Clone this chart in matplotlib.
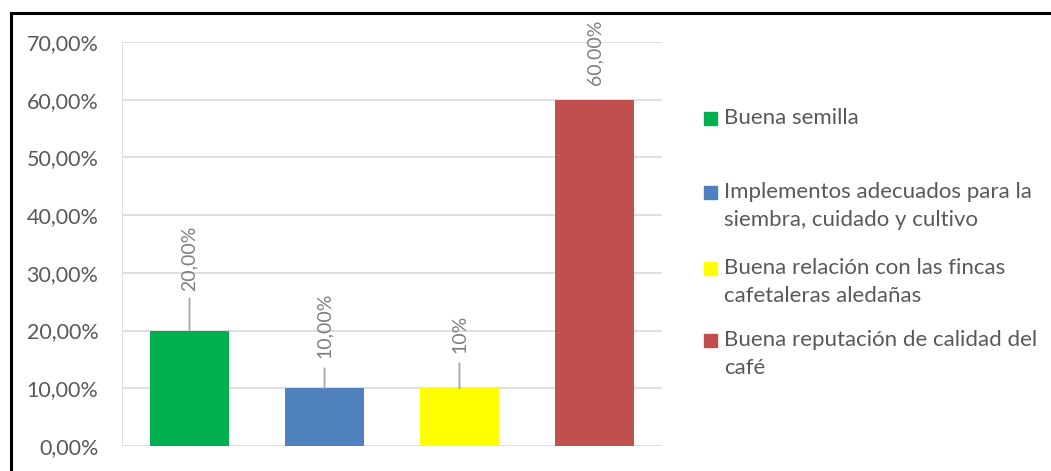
import matplotlib
matplotlib.use("Agg")
import matplotlib.pyplot as plt
from matplotlib.patches import Rectangle
from matplotlib.lines import Line2D
from matplotlib.ticker import FuncFormatter

categories = [
    "Buena semilla",
    "Implementos adecuados para la\nsiembra, cuidado y cultivo",
    "Buena relación con las fincas\ncafetaleras aledañas",
    "Buena reputación de calidad del\ncafé",
]
values = [20.0, 10.0, 10.0, 60.0]
value_labels = ["20,00%", "10,00%", "10%", "60,00%"]
colors = ["#00B050", "#4F81BD", "#FFFF00", "#C0504D"]
y_ticks = [0, 10, 20, 30, 40, 50, 60, 70]

# label placement above each bar, in pixels: gap to text and leader length
label_gap_px = [40, 30, 35, 15]
leader_px = [32, 20, 25, 0]

plt.rcParams["font.family"] = ["Lato", "DejaVu Sans"]

W, H = 1051, 471
fig = plt.figure(figsize=(W / 100, H / 100), dpi=100)
ax = fig.add_axes([122 / W, 25 / H, 540 / W, 404 / H])

x = list(range(len(values)))
ax.bar(x, values, width=0.58, color=colors, zorder=3)
ax.set_xlim(-0.5, len(values) - 0.5)
ax.set_ylim(0, 70)
ax.set_yticks(y_ticks)
ax.yaxis.set_major_formatter(FuncFormatter(lambda v, _: f"{v:.2f}%".replace(".", ",")))
ax.tick_params(axis="y", length=0, pad=17, labelsize=15.5, labelcolor="#595959")
ax.set_xticks([])
ax.grid(axis="y", color="#D9D9D9", linewidth=1.2, zorder=0)
for s in ["top", "right", "left", "bottom"]:
    ax.spines[s].set_visible(False)
ax.axvline(-0.5, color="#D9D9D9", linewidth=1.2, zorder=1)

label_color = "#7F7F7F"
for xi, v, lab, gap, lead in zip(x, values, value_labels, label_gap_px, leader_px):
    ax.annotate(lab, xy=(xi, v), xytext=(0, gap), textcoords="offset pixels",
                rotation=90, ha="center", va="bottom", fontsize=14,
                color=label_color, annotation_clip=False)
    if lead > 0:
        ax.annotate("", xy=(xi, v), xytext=(0, lead), textcoords="offset pixels",
                    arrowprops=dict(arrowstyle="-", color="#A6A6A6", lw=1.3,
                                    shrinkA=0, shrinkB=0))

# legend entries drawn at their own vertical positions
legend_y = [118, 192, 268, 340]
for name, c, ly in zip(categories, colors, legend_y):
    fig.patches.append(Rectangle((704 / W, 1 - (ly + 7) / H), 13 / W, 13 / H,
                                 transform=fig.transFigure, color=c))
    fig.text(724 / W, 1 - (ly - 10) / H, name, ha="left", va="top",
             fontsize=16, color="#595959", linespacing=1.5)

# outer frame (top and left edges)
fig.add_artist(Line2D([11 / W, 1], [1 - 13 / H, 1 - 13 / H], color="black", lw=2.2,
                      transform=fig.transFigure))
fig.add_artist(Line2D([11 / W, 11 / W], [0, 1 - 13 / H], color="black", lw=2.2,
                      transform=fig.transFigure))

fig.savefig("out.png", dpi=100, facecolor="white")
